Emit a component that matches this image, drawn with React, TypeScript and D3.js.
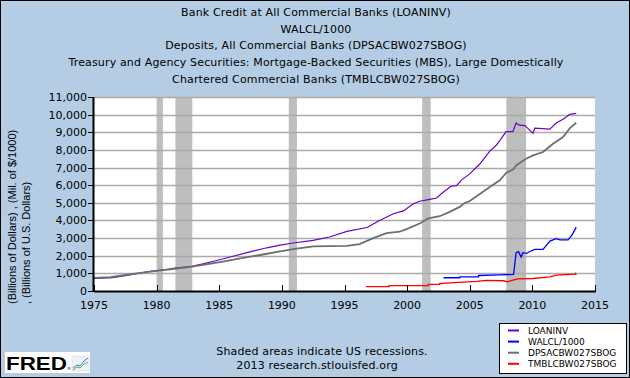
import React from "react";
import * as d3 from "d3";

const titleLines = [
  "Bank Credit at All Commercial Banks (LOANINV)",
  "WALCL/1000",
  "Deposits, All Commercial Banks (DPSACBW027SBOG)",
  "Treasury and Agency Securities: Mortgage-Backed Securities (MBS), Large Domestically",
  "Chartered Commercial Banks (TMBLCBW027SBOG)",
];
const yLabelLines = ["(Billions of Dollars) , (Mil. of $/1000)", ", (Billions of U.S. Dollars)"];
const xTicks = [1975, 1980, 1985, 1990, 1995, 2000, 2005, 2010, 2015];
const yTicks = [0, 1000, 2000, 3000, 4000, 5000, 6000, 7000, 8000, 9000, 10000, 11000];
const recessionStart = [1980.0, 1981.5, 1990.55, 2001.2, 2007.92];
const recessionEnd = [1980.5, 1982.85, 1991.2, 2001.88, 2009.5];

const seriesNames = ["LOANINV", "WALCL/1000", "DPSACBW027SBOG", "TMBLCBW027SBOG"];
const seriesColors = ["#6a00cc", "#0000ff", "#6e6e6e", "#ff0000"];

const loaninvYears = [1975.0, 1976.5, 1978.1, 1979.2, 1980.0, 1980.8, 1981.6, 1982.7, 1983.7, 1984.8, 1986.1, 1987.45, 1988.8, 1989.85, 1990.9, 1992.5, 1993.8, 1995.2, 1996.8, 1997.8, 1998.9, 1999.7, 2000.5, 2001.0, 2001.8, 2002.35, 2002.9, 2003.5, 2003.95, 2004.35, 2005.0, 2005.8, 2006.6, 2007.1, 2007.5, 2007.9, 2008.45, 2008.7, 2008.95, 2009.4, 2009.7, 2010.05, 2010.2, 2011.4, 2011.9, 2012.45, 2013.0, 2013.5];
const loaninvValues = [710, 760, 935, 1090, 1160, 1220, 1310, 1390, 1540, 1730, 1970, 2220, 2450, 2600, 2720, 2870, 3060, 3380, 3600, 4000, 4380, 4540, 4950, 5090, 5200, 5270, 5610, 5940, 5970, 6300, 6640, 7200, 7930, 8250, 8630, 9040, 9040, 9530, 9400, 9380, 9180, 8950, 9230, 9180, 9520, 9740, 10020, 10070];

const walclYears = [2002.9, 2004.2, 2004.2, 2005.7, 2005.7, 2007.4, 2008.5, 2008.7, 2008.9, 2009.1, 2009.25, 2009.55, 2009.8, 2010.2, 2010.85, 2011.4, 2011.9, 2012.2, 2012.85, 2013.2, 2013.5];
const walclValues = [750, 750, 805, 805, 880, 920, 940, 2170, 2230, 1920, 2170, 2130, 2240, 2360, 2360, 2830, 2970, 2900, 2900, 3210, 3620];

const depositYears = [1975.0, 1976.3, 1978.1, 1980.0, 1981.6, 1982.7, 1983.7, 1985.3, 1986.9, 1988.5, 1989.85, 1990.9, 1992.5, 1995.2, 1996.2, 1997.3, 1998.35, 1999.4, 1999.95, 2001.0, 2001.7, 2002.6, 2003.4, 2004.2, 2004.5, 2005.0, 2005.55, 2006.6, 2007.4, 2007.9, 2008.45, 2008.7, 2009.5, 2010.05, 2010.85, 2011.65, 2012.45, 2013.0, 2013.5];
const depositValues = [740, 780, 975, 1140, 1275, 1370, 1480, 1670, 1880, 2070, 2250, 2380, 2530, 2560, 2660, 3000, 3280, 3360, 3510, 3830, 4120, 4240, 4490, 4770, 4950, 5100, 5370, 5900, 6280, 6690, 6880, 7120, 7500, 7690, 7880, 8350, 8730, 9240, 9540];

const mbsYears = [1996.7, 1998.55, 1998.55, 2001.7, 2001.7, 2002.6, 2002.6, 2003.7, 2005.55, 2006.3, 2007.7, 2008.0, 2008.45, 2008.85, 2010.05, 2011.4, 2011.9, 2013.4, 2013.45, 2013.5];
const mbsValues = [250, 250, 300, 310, 370, 380, 420, 480, 540, 600, 580, 520, 620, 690, 710, 800, 900, 960, 1000, 920];

const W = 630;
const H = 378;
const plotLeft = 94;
const plotRight = 595;
const plotTop = 97;
const plotBottom = 291;

export default function App() {
  const x = d3.scaleLinear().domain([1975, 2015]).range([plotLeft, plotRight]);
  const y = d3.scaleLinear().domain([0, 11000]).range([plotBottom, plotTop]);
  const line = d3
    .line<[number, number]>()
    .x((d) => x(d[0]))
    .y((d) => y(d[1]));

  const zip = (a: number[], b: number[]) => a.map((v, i) => [v, b[i]] as [number, number]);
  const series = [
    { data: zip(loaninvYears, loaninvValues), color: seriesColors[0], w: 1.2 },
    { data: zip(depositYears, depositValues), color: seriesColors[2], w: 1.8 },
    { data: zip(walclYears, walclValues), color: seriesColors[1], w: 1.3 },
    { data: zip(mbsYears, mbsValues), color: seriesColors[3], w: 1.3 },
  ];
  const font = "'DejaVu Sans', Verdana, sans-serif";

  return (
    <svg
      width={W}
      height={H}
      style={{ position: "absolute", left: 0, top: 0, display: "block" }}
      fontFamily={font}
    >
      <rect x={0.5} y={0.5} width={W - 1} height={H - 1} fill="#b4cde4" stroke="#000" strokeWidth={1} />
      {titleLines.map((t, i) => (
        <text key={i} x={316} y={16 + i * 16.7} textAnchor="middle" fontSize={11} letterSpacing={0.15} fill="#000">
          {t}
        </text>
      ))}
      <rect x={plotLeft} y={plotTop} width={plotRight - plotLeft} height={plotBottom - plotTop} fill="#fff" />
      {recessionStart.map((s, i) => (
        <rect
          key={i}
          x={x(s)}
          y={plotTop}
          width={x(recessionEnd[i]) - x(s)}
          height={plotBottom - plotTop}
          fill="#bebebe"
        />
      ))}
      {yTicks.slice(1).map((t) => (
        <line key={t} x1={plotLeft} x2={plotRight} y1={Math.round(y(t)) + 0.5} y2={Math.round(y(t)) + 0.5} stroke="#aaaaaa" strokeWidth={1.3} />
      ))}
      {series.map((s, i) => (
        <path key={i} d={line(s.data) || ""} fill="none" stroke={s.color} strokeWidth={s.w} />
      ))}
      <line x1={plotLeft} x2={plotRight + 1} y1={plotBottom + 0.5} y2={plotBottom + 0.5} stroke="#000" strokeWidth={2} />
      <line x1={plotLeft - 0.5} x2={plotLeft - 0.5} y1={plotTop} y2={plotBottom + 1} stroke="#000" strokeWidth={2} />
      {yTicks.map((t) => (
        <g key={t}>
          <line x1={plotLeft - 6} x2={plotLeft} y1={Math.round(y(t)) + 0.5} y2={Math.round(y(t)) + 0.5} stroke="#000" strokeWidth={1} />
          <text x={plotLeft - 7} y={y(t) + 4} textAnchor="end" fontSize={11} fill="#000">
            {d3.format(",")(t)}
          </text>
        </g>
      ))}
      {xTicks.map((t) => (
        <g key={t}>
          <line x1={Math.round(x(t)) + 0.5} x2={Math.round(x(t)) + 0.5} y1={plotBottom - 6} y2={plotBottom} stroke="#000" strokeWidth={1} />
          <text x={x(t)} y={309} textAnchor="middle" fontSize={11} fill="#000">
            {t}
          </text>
        </g>
      ))}
      {yLabelLines.map((t, i) => (
        <text
          key={i}
          transform={`translate(${16 + i * 14},304) rotate(-90)`}
          textAnchor="start"
          fontSize={11}
          fontFamily="'Liberation Sans', Arial, sans-serif"
          fill="#000"
        >
          {t}
        </text>
      ))}
      <rect x={499.5} y={323.5} width={127} height={50} fill="#fff" stroke="#000" strokeWidth={1} />
      {seriesNames.map((n, i) => (
        <g key={n}>
          <line x1={508} x2={519} y1={330.5 + i * 11.1} y2={330.5 + i * 11.1} stroke={seriesColors[i]} strokeWidth={2} />
          <text x={528} y={333.5 + i * 11.1} fontSize={9} fill="#000">
            {n}
          </text>
        </g>
      ))}
      <text x={322} y={355} textAnchor="middle" fontSize={11} letterSpacing={0.15} fill="#000">
        Shaded areas indicate US recessions.
      </text>
      <text x={317} y={369} textAnchor="middle" fontSize={11} letterSpacing={0.15} fill="#000">
        2013 research.stlouisfed.org
      </text>
      <g>
        <rect x={5} y={352} width={85} height={21} fill="#fff" />
        <text
          x={6}
          y={369.5}
          fontSize={18}
          fontWeight="bold"
          fontFamily="'Liberation Sans', Arial, sans-serif"
          fill="#000"
          textLength={61}
          lengthAdjust="spacingAndGlyphs"
        >
          FRED
        </text>
        <text x={67} y={370} fontSize={4} fill="#000">®</text>
        <rect x={72} y={356} width={17} height={15} fill="#eef2f6" stroke="#c9d3dc" strokeWidth={0.5} />
        <polyline points="73,368 77,365 80,366 84,361 88,358" fill="none" stroke="#3a7fd0" strokeWidth={1} />
        <polyline points="73,370 77,367 80,368 84,364 88,362" fill="none" stroke="#5fae3c" strokeWidth={1} />
      </g>
    </svg>
  );
}
